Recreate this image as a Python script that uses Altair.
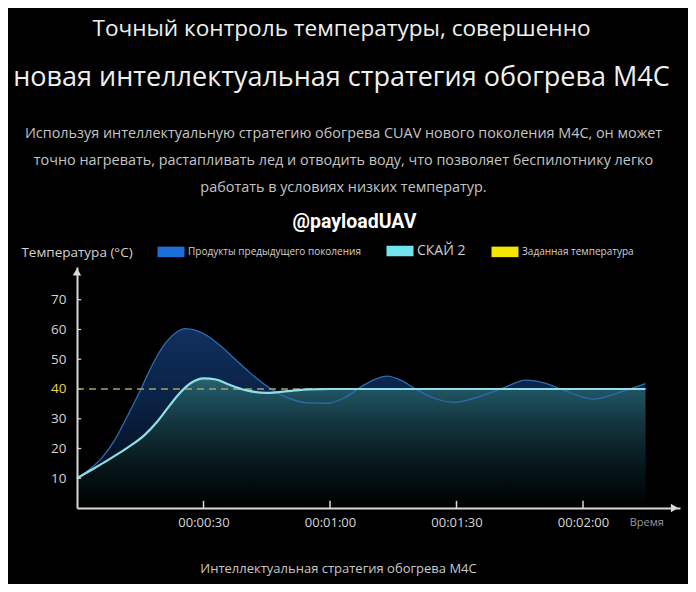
import json
import altair as alt
import pandas as pd

# ---------------- texts ----------------
TITLE_LINE1 = "Точный контроль температуры, совершенно"
TITLE_LINE2 = "новая интеллектуальная стратегия обогрева M4C"
PARAGRAPH = [
    "Используя интеллектуальную стратегию обогрева CUAV нового поколения M4C, он может",
    "точно нагревать, растапливать лед и отводить воду, что позволяет беспилотнику легко",
    "работать в условиях низких температур.",
]
WATERMARK = "@payloadUAV"
Y_TITLE = "Температура (°C)"
X_TITLE = "Интеллектуальная стратегия обогрева M4C"

LEGEND_LABELS = ["Продукты предыдущего поколения", "СКАЙ 2", "Заданная температура"]
LEGEND_COLORS = ["#1c6fd6", "#72e4ee", "#f3e600"]

# ---------------- data ----------------
PREV_T = [0, 3, 6, 9, 12, 15, 18, 21, 23.5, 25.7, 28, 31, 34, 37.5, 41, 45.5, 50, 55,
          59.5, 64, 68, 73.5, 77, 80.5, 84, 89.5, 95, 100.5, 106.5, 111, 115.5, 122.5, 128.5, 134.8]
PREV_V = [10, 13, 17, 23, 31, 39.5, 48.5, 55.5, 59, 60.3, 59.8, 57.8, 54.5, 50, 45.5, 40.5, 37, 35.3,
          35.2, 37.5, 41.3, 44.3, 42.8, 39.8, 37.3, 35.5, 37.3, 40, 43, 42, 39.5, 36.6, 38.8, 41.8]

SKY_T = [0, 4, 8, 12, 16, 19, 22, 24.5, 27, 30, 33, 36, 40, 45, 50, 55, 60, 134.8]
SKY_V = [10, 13.3, 16.7, 20.3, 24.5, 29, 34.5, 38.8, 42, 43.6, 43.2, 41.5, 39.6, 38.7, 39.3, 39.9, 40, 40]

SETPOINT = 40
T_END = 134.8

X_TICKS = [30, 60, 90, 120]
X_TICK_LABELS = ["00:00:30", "00:01:00", "00:01:30", "00:02:00"]
X_UNIT_POS = 135
X_UNIT_LABEL = "Время"
Y_TICKS = [10, 20, 30, 40, 50, 60, 70]
X_DOMAIN = [0, 143]
Y_DOMAIN = [0, 81]

FONT = "Open Sans"

# ---------------- tables ----------------
prev_df = pd.DataFrame({"t": PREV_T, "v": PREV_V})
sky_df = pd.DataFrame({"t": SKY_T, "v": SKY_V})
set_df = pd.DataFrame({"t": [0, T_END], "v": [SETPOINT, SETPOINT]})
xt_df = pd.DataFrame({"t": X_TICKS, "v0": [0] * len(X_TICKS), "v1": [2.4] * len(X_TICKS)})
yt_df = pd.DataFrame({"v": Y_TICKS, "t0": [0] * len(Y_TICKS), "t1": [1.0] * len(Y_TICKS)})
arrow_df = pd.DataFrame({
    "t": [X_DOMAIN[0], X_DOMAIN[1] - 1.3],
    "v": [Y_DOMAIN[1] - 1.6, Y_DOMAIN[0]],
    "shape": ["triangle-up", "triangle-right"],
})
legend_df = pd.DataFrame({"series": LEGEND_LABELS})

xs = alt.Scale(domain=X_DOMAIN, nice=False, zero=False)
ys = alt.Scale(domain=Y_DOMAIN, nice=False, zero=False)

all_vals = X_TICKS + [X_UNIT_POS]
all_labs = X_TICK_LABELS + [X_UNIT_LABEL]
label_expr = (f"{json.dumps(all_labs, ensure_ascii=False)}"
              f"[indexof({json.dumps(all_vals)}, datum.value)]")

x_axis_main = alt.Axis(
    orient="bottom", values=all_vals, labelExpr=label_expr, title=X_TITLE,
    titleX=261, titleY=60, titleAlign="center", titleBaseline="middle",
    titleFont=FONT, titleFontSize=13, titleFontWeight="normal", titleColor="#c8c8c8",
    labelFont=FONT,
    labelFontSize={"condition": {"test": f"datum.value == {X_UNIT_POS}", "value": 11}, "value": 13},
    labelColor={"condition": {"test": f"datum.value == {X_UNIT_POS}", "value": "#9a9a9a"}, "value": "#d6d6d6"},
    labelPadding=8, labelFlush=False, ticks=False, grid=False,
    domainColor="#d8d8d8", domainWidth=2, zindex=1,
)
y_axis_main = alt.Axis(
    orient="left", values=Y_TICKS, title=Y_TITLE, titleAngle=0,
    titleX=-0.5, titleY=-15, titleAlign="center", titleBaseline="middle",
    titleFont=FONT, titleFontSize=13.5, titleFontWeight="normal", titleColor="#d2d2d2",
    labelFont=FONT, labelFontSize=13.5,
    labelColor={"condition": {"test": f"datum.value == {SETPOINT}", "value": "#e6d44a"}, "value": "#d4d4d4"},
    labelPadding=11, ticks=False, grid=False,
    domainColor="#d8d8d8", domainWidth=2, zindex=1,
)
x_axis_top = alt.Axis(
    orient="top", title=PARAGRAPH, labels=False, ticks=False, domain=False, grid=False,
    titleX=266, titleY=-134, titleAlign="center", titleBaseline="middle",
    titleFont=FONT, titleFontSize=14.4, titleFontWeight="normal", titleColor="#c4c4c4",
    titleLineHeight=27,
)
y_axis_right = alt.Axis(
    orient="right", title=WATERMARK, titleAngle=0, labels=False, ticks=False, domain=False, grid=False,
    titleX=-326, titleY=-46, titleAlign="center", titleBaseline="middle",
    titleFont="Roboto", titleFontSize=19.5, titleFontWeight="bold", titleColor="#ffffff",
)

prev_grad = alt.Gradient(
    gradient="linear", x1=0, x2=0, y1=0, y2=1,
    stops=[alt.GradientStop(offset=0, color="#10305e"),
           alt.GradientStop(offset=0.4, color="#0a2244"),
           alt.GradientStop(offset=1, color="#020610")],
)
sky_grad = alt.Gradient(
    gradient="linear", x1=0, x2=0, y1=0, y2=1,
    stops=[alt.GradientStop(offset=0, color="#2a6470"),
           alt.GradientStop(offset=0.1, color="#205362"),
           alt.GradientStop(offset=0.35, color="#13343d"),
           alt.GradientStop(offset=0.7, color="#061418"),
           alt.GradientStop(offset=1, color="#000000")],
)

prev_area = alt.Chart(prev_df).mark_area(interpolate="monotone", color=prev_grad).encode(
    x=alt.X("t:Q", scale=xs, axis=x_axis_main),
    y=alt.Y("v:Q", scale=ys, axis=y_axis_main),
)
sky_area = alt.Chart(sky_df).mark_area(interpolate="monotone", color=sky_grad).encode(
    x=alt.X("t:Q", scale=xs, axis=None),
    y=alt.Y("v:Q", scale=ys, axis=None),
)
x_ticks = alt.Chart(xt_df).mark_rule(color="#d8d8d8", strokeWidth=1.5).encode(
    x=alt.X("t:Q", scale=xs, axis=None),
    y=alt.Y("v0:Q", scale=ys, axis=None),
    y2="v1:Q",
)
y_ticks = alt.Chart(yt_df).mark_rule(color="#d8d8d8", strokeWidth=1.2).encode(
    y=alt.Y("v:Q", scale=ys, axis=None),
    x=alt.X("t0:Q", scale=xs, axis=None),
    x2="t1:Q",
)
prev_line = alt.Chart(prev_df).mark_line(interpolate="monotone", color="#2f6cae", strokeWidth=1.3).encode(
    x=alt.X("t:Q", scale=xs, axis=None),
    y=alt.Y("v:Q", scale=ys, axis=None),
)
set_line = alt.Chart(set_df).mark_line(color="#a7a36e", strokeWidth=1.4, strokeDash=[7, 5]).encode(
    x=alt.X("t:Q", scale=xs, axis=x_axis_top),
    y=alt.Y("v:Q", scale=ys, axis=y_axis_right),
)
sky_line = alt.Chart(sky_df).mark_line(interpolate="monotone", color="#8fe0e6", strokeWidth=2.2).encode(
    x=alt.X("t:Q", scale=xs, axis=None),
    y=alt.Y("v:Q", scale=ys, axis=None),
)
arrows = alt.Chart(arrow_df).mark_point(filled=True, size=70, color="#dcdcdc", opacity=1).encode(
    x=alt.X("t:Q", scale=xs, axis=None),
    y=alt.Y("v:Q", scale=ys, axis=None),
    shape=alt.Shape("shape:N", scale=None),
)
legend_layer = alt.Chart(legend_df).mark_point(filled=True, opacity=0).encode(
    color=alt.Color(
        "series:N",
        scale=alt.Scale(domain=LEGEND_LABELS, range=LEGEND_COLORS),
        legend=alt.Legend(
            orient="none", legendX=89, legendY=-21, direction="horizontal", title=None,
            symbolType="M-2.7,-1.05H2.7V1.05H-2.7Z", symbolSize=100, symbolStrokeWidth=0,
            symbolOpacity=1, labelFont=FONT,
            labelFontSize={"expr": f"datum.label == '{LEGEND_LABELS[1]}' ? 14 : 10"},
            labelColor="#d0d0d0", labelOffset=12, columnPadding=25, padding=0, labelLimit=400,
        ),
    ),
)

chart = alt.layer(
    prev_area, sky_area, x_ticks, y_ticks, prev_line, set_line, sky_line, arrows, legend_layer
).resolve_axis(x="independent", y="independent").properties(
    width=603, height=241,
    padding={"left": 69, "top": 259, "right": 8, "bottom": 76},
    autosize=alt.AutoSizeParams(type="none"),
    background="#000000",
    title=alt.TitleParams(
        text=TITLE_LINE1, subtitle=TITLE_LINE2, anchor="middle", frame="group",
        dx=-37, offset=34,
        font=FONT, fontSize=22.6, fontWeight="normal", color="#f0f0f0",
        subtitleFont=FONT, subtitleFontSize=27, subtitleColor="#f0f0f0", subtitlePadding=24,
    ),
).configure_view(stroke="transparent")

chart.save("out.html", embed_options={"renderer": "svg", "actions": False})
